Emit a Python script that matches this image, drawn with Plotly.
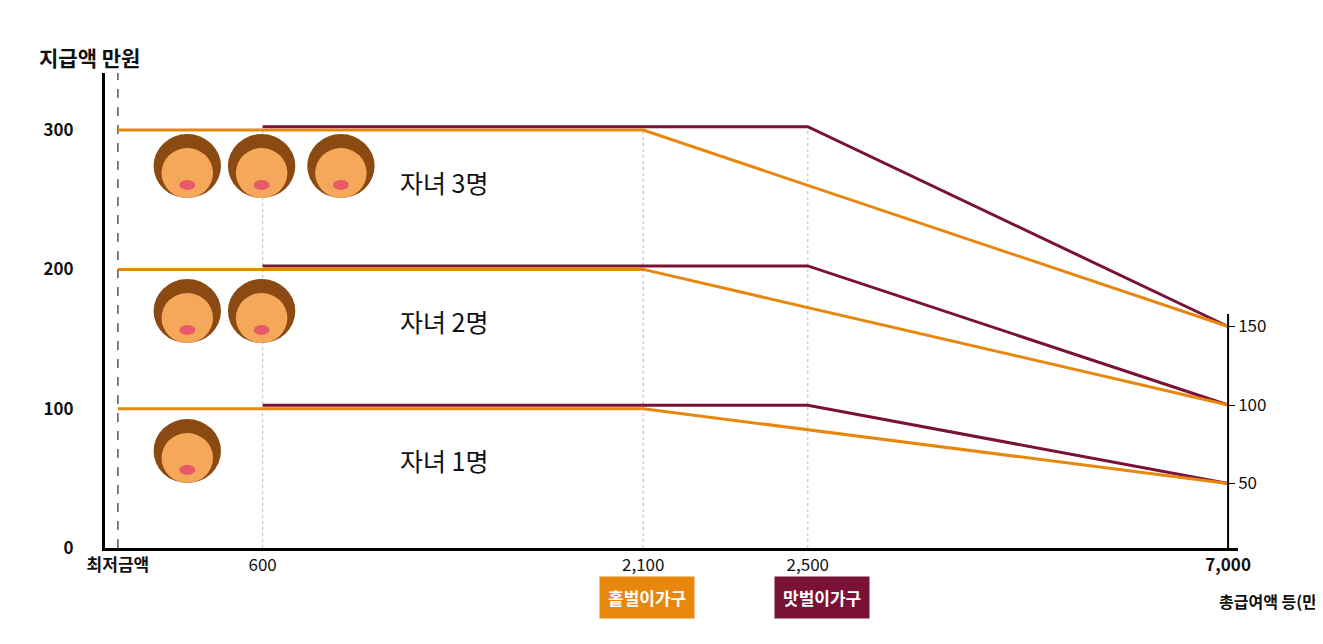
import plotly.graph_objects as go

# x scale: display slots for the (non-linear) income axis
x_labels = ["최저금액", "600", "2,100", "2,500", "7,000"]
x_slots = [110, 256, 640, 806, 1230]

kids = ["자녀 1명", "자녀 2명", "자녀 3명"]
flat_amount = [100, 200, 300]          # 만원
end_amount = [50, 100, 150]            # right axis value at 7,000
single_x = [0, 2, 4]                   # slot indices: start, kink, end
dual_x = [1, 3, 4]

ORANGE = "#E8870E"
PURPLE = "#7A1238"

L_RANGE = [0, 341]
R_RANGE = [8.9, 311.5]
def r2l(v):
    return L_RANGE[0] + (v - R_RANGE[0]) / (R_RANGE[1] - R_RANGE[0]) * (L_RANGE[1] - L_RANGE[0])

fig = go.Figure()
for i in range(3):
    yd = [flat_amount[i], flat_amount[i], r2l(end_amount[i])]
    fig.add_trace(go.Scatter(x=[x_slots[j] for j in dual_x], y=[yd[0] + 2.5, yd[1] + 2.5, yd[2]],
                             mode="lines", line=dict(color=PURPLE, width=3), showlegend=False))
    fig.add_trace(go.Scatter(x=[x_slots[j] for j in single_x], y=yd,
                             mode="lines", line=dict(color=ORANGE, width=3), showlegend=False))

shapes = []
for k, xs in enumerate(x_slots[:4]):
    shapes.append(dict(type="line", xref="x", yref="y", x0=xs, x1=xs, y0=0, y1=L_RANGE[1] if k == 0 else flat_amount[2],
                       line=dict(color="#555" if k == 0 else "#bbb", width=1.5 if k == 0 else 1, dash="dash" if k == 0 else "dot"),
                       layer="below"))
shapes.append(dict(type="line", xref="x", yref="y", x0=1230, x1=1230, y0=0, y1=r2l(158),
                   line=dict(color="black", width=2)))

py = 1.393
face_rows = [(445, [180]), (305, [180, 255]), (160, [180, 255, 335])]
for ypx, xs in face_rows:
    yc = (540 - ypx) / py
    for xc in xs:
        r = 30
        shapes.append(dict(type="circle", xref="x", yref="y", x0=xc - r - 4, x1=xc + r + 4,
                           y0=yc - r / py, y1=yc + (r + 4) / py, fillcolor="#8A4A12", line=dict(width=0)))
        shapes.append(dict(type="circle", xref="x", yref="y", x0=xc - 26, x1=xc + 26,
                           y0=yc - 30 / py, y1=yc + 20 / py, fillcolor="#F5A85A", line=dict(width=0)))
        shapes.append(dict(type="circle", xref="x", yref="y", x0=xc - 8, x1=xc + 8,
                           y0=yc - 22 / py, y1=yc - 12 / py, fillcolor="#E85A6A", line=dict(width=0)))

annotations = []
for i, t in enumerate(kids):
    annotations.append(dict(x=393, y=flat_amount[i] - 37, xref="x", yref="y", text=t, showarrow=False,
                            xanchor="left", font=dict(size=25, color="#111")))
for t, c, xp in [("홑벌이가구", ORANGE, 0.478), ("맛벌이가구", PURPLE, 0.633)]:
    annotations.append(dict(x=xp, y=-0.15, xref="paper", yref="paper", text=f"<b>{t}</b>", showarrow=False,
                            bgcolor=c, font=dict(size=17, color="white"), borderpad=8))
annotations.append(dict(x=-0.06, y=1.07, xref="paper", yref="paper", text="<b>지급액 만원</b>", showarrow=False,
                        xanchor="left", font=dict(size=21, color="#111")))
annotations.append(dict(x=1.09, y=-0.14, xref="paper", yref="paper", text="<b>총급여액 등(만원)</b>", showarrow=False,
                        xanchor="right", font=dict(size=16, color="#111")))

fig.update_layout(
    width=1323, height=644, paper_bgcolor="white", plot_bgcolor="white",
    margin=dict(l=97, r=93, t=65, b=104),
    font=dict(family="Noto Sans CJK KR", color="#111"),
    shapes=shapes, annotations=annotations,
    xaxis=dict(range=[97, 1240], tickvals=x_slots, showgrid=False, zeroline=False,
               ticktext=["<b>최저금액</b>", "600", "2,100", "2,500", "<b>7,000</b>"],
               showline=True, linecolor="black", linewidth=3, tickfont=dict(size=17)),
    yaxis=dict(range=L_RANGE, tickvals=[0, 100, 200, 300], ticktext=["<b>0</b>", "<b>100</b>", "<b>200</b>", "<b>300</b>"],
               showgrid=False, zeroline=False, showline=True, linecolor="black", linewidth=3,
               tickfont=dict(size=17), ticks="", ticklabelstandoff=25),
    yaxis2=dict(range=R_RANGE, overlaying="y", side="right", anchor="free", position=0.991,
                tickvals=[50, 100, 150], showgrid=False, zeroline=False, ticks="outside", ticklen=6,
                tickcolor="black", tickfont=dict(size=17)),
)
fig.add_trace(go.Scatter(x=[None], y=[None], yaxis="y2", showlegend=False))
fig.write_html("out.html")
